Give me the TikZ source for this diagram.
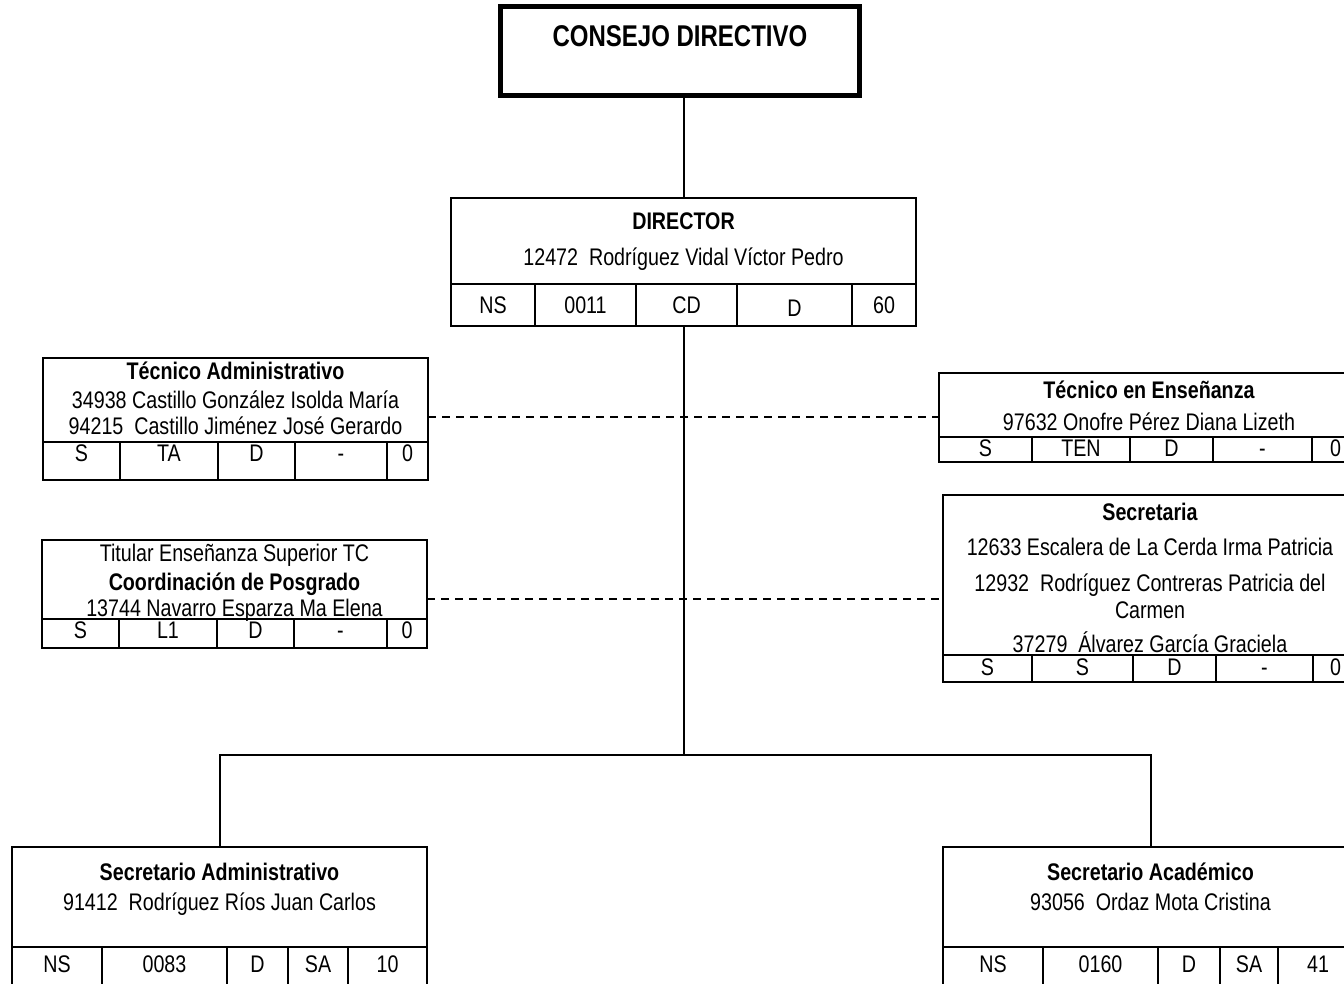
\documentclass[tikz,border=0pt]{standalone}
\usepackage{fontspec}
\setmainfont{Liberation Sans}[FakeStretch=0.82]
\newfontfamily\consfont{Liberation Sans}[FakeStretch=0.80]
\begin{document}
\begin{tikzpicture}[x=1pt,y=-1pt,
  box/.style={draw, line width=2.2pt, inner sep=0pt, outer sep=0pt, anchor=north west},
  cbox/.style={draw, line width=5pt, inner sep=0pt, outer sep=0pt, anchor=north west},
  cell/.style={line width=2.2pt},
  txt/.style={anchor=base, inner sep=0pt, yshift=-8.4pt, font=\fontsize{24}{28}\selectfont},
  btxt/.style={anchor=base, inner sep=0pt, yshift=-8.4pt, font=\fontsize{24}{28}\selectfont\bfseries},
  ctxt/.style={anchor=base, inner sep=0pt, yshift=-10.7pt, font=\consfont\fontsize{30}{34}\selectfont\bfseries},
  link/.style={line width=2pt},
  dashlink/.style={line width=1.6pt, dash pattern=on 8pt off 6pt}]
\useasboundingbox (0,0) rectangle (1344,984);
\clip (0,0) rectangle (1344,984);

% ---------- Consejo Directivo
\node[cbox, minimum width=359pt, minimum height=89pt] (cons) at (500.5,6.5) {};
\node[ctxt] (consT) at (680,36) {CONSEJO DIRECTIVO};

% ---------- Director
\node[box, minimum width=465pt, minimum height=128pt] (dir) at (451,198) {};
\draw[cell] (451,284) -- (916,284);
\foreach \x in {535,636,737,852} \draw[cell] (\x,284) -- (\x,326);
\node[btxt] (dirT) at (683.5,221) {DIRECTOR};
\node[txt] (dirN) at (683.5,257) {12472~ Rodríguez Vidal Víctor Pedro};
\node[txt] (dirC1) at (493,305) {NS};
\node[txt] (dirC2) at (585.5,305) {0011};
\node[txt] (dirC3) at (686.5,305) {CD};
\node[txt] (dirC4) at (794.5,308) {D};
\node[txt] (dirC5) at (884,305) {60};

% ---------- Tecnico Administrativo
\node[box, minimum width=385pt, minimum height=122pt] (ta) at (43,358) {};
\draw[cell] (43,442) -- (428,442);
\foreach \x in {120,218,295,387} \draw[cell] (\x,442) -- (\x,480);
\node[btxt] (taT) at (235.5,371) {Técnico Administrativo};
\node[txt] (taN1) at (235.5,400) {34938 Castillo González Isolda María};
\node[txt] (taN2) at (235.5,426) {94215~ Castillo Jiménez José Gerardo};
\node[txt] (taC1) at (81.5,453) {S};
\node[txt] (taC2) at (169,453) {TA};
\node[txt] (taC3) at (256.5,453) {D};
\node[txt] (taC4) at (341,453) {-};
\node[txt] (taC5) at (407.5,453) {0};

% ---------- Tecnico en Ensenanza
\node[box, minimum width=420pt, minimum height=89pt] (ten) at (939,373) {};
\draw[cell] (939,437) -- (1359,437);
\foreach \x in {1032,1130,1213,1312} \draw[cell] (\x,437) -- (\x,462);
\node[btxt] (tenT) at (1149,390) {Técnico en Enseñanza};
\node[txt] (tenN) at (1149,422) {97632 Onofre Pérez Diana Lizeth};
\node[txt] (tenC1) at (985.5,448) {S};
\node[txt] (tenC2) at (1081,448) {TEN};
\node[txt] (tenC3) at (1171.5,448) {D};
\node[txt] (tenC4) at (1262.5,448) {-};
\node[txt] (tenC5) at (1335.5,448) {0};

% ---------- Titular / Coordinacion de Posgrado
\node[box, minimum width=385pt, minimum height=108pt] (tit) at (42,540) {};
\draw[cell] (42,619) -- (427,619);
\foreach \x in {119,217,294,387} \draw[cell] (\x,619) -- (\x,648);
\node[txt] (titL1) at (234.5,553) {Titular Enseñanza Superior TC};
\node[btxt] (titL2) at (234.5,582) {Coordinación de Posgrado};
\node[txt] (titL3) at (234.5,608) {13744 Navarro Esparza Ma Elena};
\node[txt] (titC1) at (80.5,630) {S};
\node[txt] (titC2) at (168,630) {L1};
\node[txt] (titC3) at (255.5,630) {D};
\node[txt] (titC4) at (340.5,630) {-};
\node[txt] (titC5) at (407,630) {0};

% ---------- Secretaria
\node[box, minimum width=415pt, minimum height=187pt] (sec) at (943,495) {};
\draw[cell] (943,655) -- (1358,655);
\foreach \x in {1032,1133,1216,1313} \draw[cell] (\x,655) -- (\x,682);
\node[btxt] (secT) at (1150,512) {Secretaria};
\node[txt] (secN1) at (1150,547) {12633 Escalera de La Cerda Irma Patricia};
\node[txt] (secN2) at (1150,583) {12932~ Rodríguez Contreras Patricia del};
\node[txt] (secN3) at (1150,610) {Carmen};
\node[txt] (secN4) at (1150,644) {37279~ Álvarez García Graciela};
\node[txt] (secC1) at (987.5,667) {S};
\node[txt] (secC2) at (1082.5,667) {S};
\node[txt] (secC3) at (1174.5,667) {D};
\node[txt] (secC4) at (1264.5,667) {-};
\node[txt] (secC5) at (1335.5,667) {0};

% ---------- Secretario Administrativo
\node[box, minimum width=415pt, minimum height=160pt] (sa) at (12,847) {};
\draw[cell] (12,947) -- (427,947);
\foreach \x in {102,227,288,348} \draw[cell] (\x,947) -- (\x,1007);
\node[btxt] (saT) at (219.5,872) {Secretario Administrativo};
\node[txt] (saN) at (219.5,902) {91412~ Rodríguez Ríos Juan Carlos};
\node[txt] (saC1) at (57,964) {NS};
\node[txt] (saC2) at (164.5,964) {0083};
\node[txt] (saC3) at (257.5,964) {D};
\node[txt] (saC4) at (318,964) {SA};
\node[txt] (saC5) at (387.5,964) {10};

% ---------- Secretario Academico
\node[box, minimum width=415pt, minimum height=160pt] (sac) at (943,847) {};
\draw[cell] (943,947) -- (1358,947);
\foreach \x in {1043,1158,1220,1278} \draw[cell] (\x,947) -- (\x,1007);
\node[btxt] (sacT) at (1150.5,872) {Secretario Académico};
\node[txt] (sacN) at (1150.5,902) {93056~ Ordaz Mota Cristina};
\node[txt] (sacC1) at (993,964) {NS};
\node[txt] (sacC2) at (1100.5,964) {0160};
\node[txt] (sacC3) at (1189,964) {D};
\node[txt] (sacC4) at (1249,964) {SA};
\node[txt] (sacC5) at (1318,964) {41};

% ---------- Connectors
\coordinate (j) at (0,755);
\coordinate (d1) at (0,417);
\coordinate (d2) at (0,599);
\draw[link] (dir.north) -- (dir.north |- cons.south);
\draw[link] (dir.south) -- (dir.south |- j);
\draw[link] (sa.north) -- (sa.north |- j) -- (sac.north |- j) -- (sac.north);
\draw[dashlink] (ta.east |- d1) -- (ten.west |- d1);
\draw[dashlink] (tit.east |- d2) -- (sec.west |- d2);
\end{tikzpicture}
\end{document}
